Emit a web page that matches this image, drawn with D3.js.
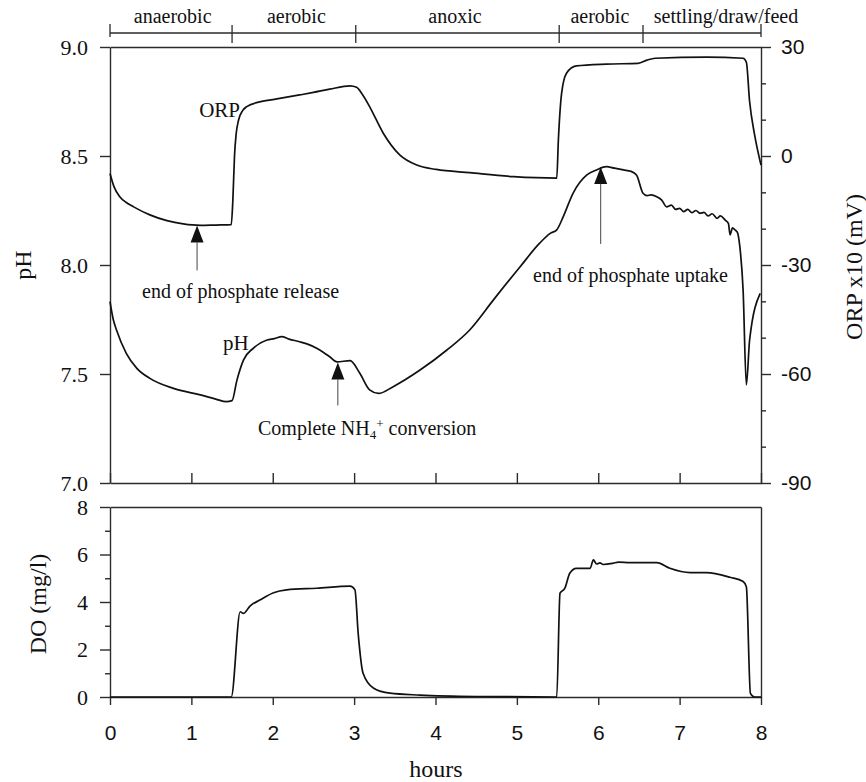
<!DOCTYPE html>
<html>
<head>
<meta charset="utf-8">
<script src="https://cdn.jsdelivr.net/npm/d3@7"></script>
<style>
body { margin: 0; background: #fff; }
svg { display: block; }
</style>
</head>
<body>
<script>
// values (hours, ORP in mV/10, pH, DO in mg/l)
let orpHours = [0, 0.05, 0.12, 0.2, 0.29, 0.49, 0.7, 0.9, 1.11, 1.3, 1.49, 1.51, 1.53, 1.55, 1.58, 1.63, 1.68, 1.84, 2.05, 2.33, 2.5, 2.7, 2.95, 3.03, 3.1, 3.19, 3.36, 3.56, 3.77, 4.01, 4.42, 4.96, 5.49, 5.51, 5.55, 5.61, 5.73, 6.1, 6.49, 6.6, 6.7, 7.33, 7.78, 7.82, 7.86, 7.92, 8.0];
let orpValues = [-4.8, -8.5, -11.2, -12.8, -14.0, -16.2, -17.8, -18.7, -19.1, -19.0, -18.9, -12, 0, 6, 9.9, 12.5, 13.6, 14.9, 15.7, 16.8, 17.5, 18.4, 19.3, 18.9, 17.0, 13.6, 6.2, 0.3, -2.5, -3.7, -4.6, -5.7, -6.1, 4.4, 17.3, 22.8, 24.8, 25.3, 25.5, 26.4, 26.9, 27.2, 26.9, 25.8, 15, 6, -2.5];

let phHours = [0, 0.04, 0.08, 0.2, 0.33, 0.49, 0.78, 1.11, 1.3, 1.43, 1.5, 1.56, 1.64, 1.76, 1.93, 2.02, 2.11, 2.2, 2.33, 2.42, 2.54, 2.62, 2.7, 2.79, 2.95, 3.07, 3.19, 3.3, 3.48, 3.81, 4.14, 4.42, 4.71, 5.04, 5.28, 5.41, 5.49, 5.57, 5.69, 5.86, 5.98, 6.1, 6.2, 6.31, 6.4, 6.47, 6.55, 6.6, 6.65, 6.72, 6.78, 6.84, 6.9, 6.95, 7.0, 7.05, 7.1, 7.15, 7.2, 7.25, 7.3, 7.35, 7.4, 7.46, 7.5, 7.56, 7.6, 7.62, 7.65, 7.68, 7.71, 7.74, 7.78, 7.82, 7.86, 7.99];
let phValues = [7.832, 7.75, 7.702, 7.595, 7.526, 7.48, 7.434, 7.404, 7.385, 7.373, 7.378, 7.472, 7.564, 7.618, 7.656, 7.662, 7.671, 7.66, 7.648, 7.638, 7.618, 7.6, 7.579, 7.556, 7.561, 7.503, 7.427, 7.411, 7.442, 7.518, 7.61, 7.702, 7.839, 7.992, 8.1, 8.145, 8.161, 8.222, 8.329, 8.413, 8.436, 8.451, 8.444, 8.436, 8.43, 8.413, 8.329, 8.318, 8.322, 8.313, 8.298, 8.267, 8.275, 8.255, 8.26, 8.245, 8.255, 8.24, 8.25, 8.237, 8.241, 8.225, 8.235, 8.214, 8.225, 8.206, 8.19, 8.138, 8.17, 8.161, 8.15, 8.084, 7.885, 7.45, 7.656, 7.87];

let doHours = [0, 1.49, 1.6, 1.64, 1.72, 1.84, 2.01, 2.17, 2.54, 2.95, 3.01, 3.05, 3.11, 3.24, 3.44, 3.81, 4.5, 5.49, 5.53, 5.59, 5.65, 5.73, 5.9, 5.94, 5.98, 6.02, 6.06, 6.18, 6.25, 6.39, 6.72, 6.88, 7.13, 7.33, 7.62, 7.78, 7.82, 7.87, 7.92, 8.0];
let doValues = [0, 0, 3.59, 3.52, 3.83, 4.08, 4.39, 4.51, 4.58, 4.67, 4.51, 2.67, 1.0, 0.37, 0.16, 0.08, 0.02, 0, 4.37, 4.58, 5.21, 5.42, 5.42, 5.77, 5.6, 5.65, 5.58, 5.63, 5.68, 5.66, 5.66, 5.42, 5.24, 5.24, 5.04, 4.86, 4.64, 0.15, 0, 0];

let phaseBounds = [0, 1.5, 3.02, 5.52, 6.55, 8];
let phaseNames = ['anaerobic', 'aerobic', 'anoxic', 'aerobic', 'settling/draw/feed'];
let phaseLabelAt = [0.77, 2.29, 4.24, 6.02, 7.57];

let phTicks = [7, 7.5, 8, 8.5, 9];
let orpTicks = [-90, -60, -30, 0, 30];
let doTicks = [0, 2, 4, 6, 8];
let hourTicks = [0, 1, 2, 3, 4, 5, 6, 7, 8];

const width = 866, height = 782;
const serif = '"Liberation Serif","Times New Roman",serif';
const sans = '"Liberation Sans",Arial,sans-serif';
const ink = '#2b2b2b';

const svg = d3.select('body').append('svg').attr('width', width).attr('height', height);

const x = d3.scaleLinear().domain([0, 8]).range([110, 761]);
const yPH = d3.scaleLinear().domain([7, 9]).range([483, 47]);
const yORP = d3.scaleLinear().domain([-90, 30]).range([483, 47]);
const yDO = d3.scaleLinear().domain([0, 8]).range([697, 507]);

const styleAxis = (g, font, size) => {
	g.selectAll('path, line').attr('stroke', ink).attr('stroke-width', 1.4);
	g.selectAll('text').attr('fill', '#111').style('font-family', font).style('font-size', size + 'px');
};

// ---- phase bar on top
let bar = svg.append('g');
bar.append('line').attr('x1', x(0)).attr('x2', x(8)).attr('y1', 33).attr('y2', 33).attr('stroke', ink).attr('stroke-width', 1.3);
bar.selectAll('.div').data(phaseBounds).enter().append('line')
	.attr('x1', d => x(d)).attr('x2', d => x(d))
	.attr('y1', (d, i) => (i == 0 || i == phaseBounds.length - 1) ? 24 : 25)
	.attr('y2', (d, i) => (i == 0 || i == phaseBounds.length - 1) ? 37 : 43)
	.attr('stroke', ink).attr('stroke-width', 1.3);
bar.selectAll('.phase').data(phaseNames).enter().append('text')
	.attr('x', (d, i) => x(phaseLabelAt[i])).attr('y', 23)
	.attr('text-anchor', 'middle').style('font-family', serif).style('font-size', '20px').attr('fill', '#111')
	.text(d => d);

// ---- top panel axes
svg.append('g').attr('transform', 'translate(110,0)')
	.call(d3.axisLeft(yPH).tickValues(phTicks).tickFormat(d3.format('.1f')).tickSize(10).tickSizeOuter(0).tickPadding(12))
	.call(g => styleAxis(g, serif, 22));

svg.append('g').attr('transform', 'translate(761,0)')
	.call(d3.axisRight(yORP).tickValues(orpTicks).tickFormat(d => String(d)).tickSize(10).tickSizeOuter(0).tickPadding(10))
	.call(g => styleAxis(g, sans, 21));
svg.append('g').attr('transform', 'translate(761,0)')
	.call(d3.axisRight(yORP).tickValues(d3.range(-80, 30, 10).filter(v => v % 30 != 0)).tickFormat('').tickSize(5))
	.call(g => { g.select('.domain').remove(); styleAxis(g, sans, 21); });

svg.append('g').attr('transform', 'translate(0,483)')
	.call(d3.axisBottom(x).tickValues(hourTicks).tickFormat('').tickSize(-10).tickSizeOuter(0))
	.call(g => styleAxis(g, sans, 21));
svg.append('g').attr('transform', 'translate(0,47)')
	.call(d3.axisTop(x).tickValues([]).tickSizeOuter(0))
	.call(g => styleAxis(g, sans, 21));

// ---- DO panel axes
svg.append('g').attr('transform', 'translate(110,0)')
	.call(d3.axisLeft(yDO).tickValues(doTicks).tickSize(10).tickSizeOuter(0).tickPadding(12))
	.call(g => styleAxis(g, serif, 22));
svg.append('g').attr('transform', 'translate(110,0)')
	.call(d3.axisLeft(yDO).tickValues([1, 3, 5, 7]).tickFormat('').tickSize(5))
	.call(g => { g.select('.domain').remove(); styleAxis(g, serif, 22); });
svg.append('g').attr('transform', 'translate(0,697)')
	.call(d3.axisBottom(x).tickValues(hourTicks).tickSize(8).tickSizeOuter(0).tickPadding(20))
	.call(g => styleAxis(g, sans, 21));
svg.append('g').attr('transform', 'translate(0,507)')
	.call(d3.axisTop(x).tickValues([]).tickSizeOuter(0))
	.call(g => styleAxis(g, sans, 21));
svg.append('g').attr('transform', 'translate(761,0)')
	.call(d3.axisRight(yDO).tickValues([]).tickSizeOuter(0))
	.call(g => styleAxis(g, sans, 21));

// ---- curves
const drawSeries = (hrs, vals, yScale) => {
	let line = d3.line().x(d => x(d[0])).y(d => yScale(d[1])).curve(d3.curveMonotoneX);
	svg.append('path').datum(d3.zip(hrs, vals)).attr('d', line)
		.attr('fill', 'none').attr('stroke', '#111').attr('stroke-width', 1.7).attr('stroke-linejoin', 'round');
};
drawSeries(orpHours, orpValues, yORP);
drawSeries(phHours, phValues, yPH);
drawSeries(doHours, doValues, yDO);

// ---- labels and arrows
const label = (txt, px, py, anchor, size) => svg.append('text').attr('x', px).attr('y', py)
	.attr('text-anchor', anchor || 'start').style('font-family', serif).style('font-size', (size || 20) + 'px').attr('fill', '#111').text(txt);

label('ORP', 240, 117, 'end', 21);
label('pH', 223, 350, 'start', 21);

const arrow = (hr, yTip, len) => {
	let px = x(hr);
	svg.append('path').attr('d', `M${px},${yTip}L${px - 6.5},${yTip + 17}L${px + 6.5},${yTip + 17}Z`).attr('fill', '#111');
	svg.append('line').attr('x1', px).attr('x2', px).attr('y1', yTip + 17).attr('y2', yTip + len).attr('stroke', '#444').attr('stroke-width', 1);
};
arrow(1.07, yORP(-19.1), 45);
arrow(2.8, yPH(7.553), 43);
arrow(6.03, yPH(8.45), 77);

label('end of phosphate release', 142, 298);
label('end of phosphate uptake', 533, 282);
let nh = label('Complete NH', 258, 435);
nh.append('tspan').attr('dy', 4).style('font-size', '13px').text('4');
nh.append('tspan').attr('dy', -11).style('font-size', '13px').text('+');
nh.append('tspan').attr('dy', 7).text(' conversion');

// axis titles
svg.append('text').attr('transform', 'translate(31,265) rotate(-90)').attr('text-anchor', 'middle')
	.style('font-family', serif).style('font-size', '24px').attr('fill', '#111').text('pH');
svg.append('text').attr('transform', 'translate(46,604) rotate(-90)').attr('text-anchor', 'middle')
	.style('font-family', serif).style('font-size', '24px').attr('fill', '#111').text('DO (mg/l)');
svg.append('text').attr('transform', 'translate(862,267) rotate(-90)').attr('text-anchor', 'middle')
	.style('font-family', serif).style('font-size', '24px').attr('fill', '#111').text('ORP x10 (mV)');
svg.append('text').attr('x', 436).attr('y', 777).attr('text-anchor', 'middle')
	.style('font-family', serif).style('font-size', '24px').attr('fill', '#111').text('hours');
</script>
</body>
</html>
